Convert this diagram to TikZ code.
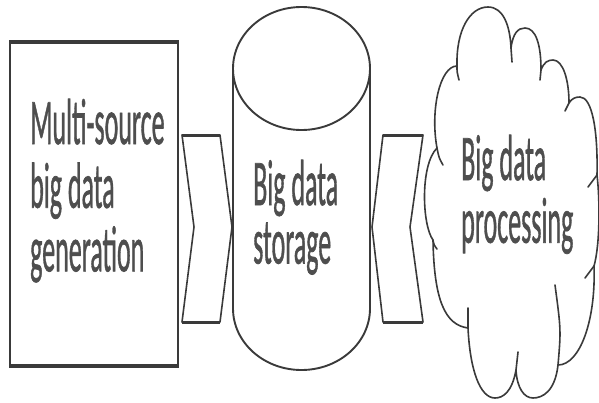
\documentclass[tikz,border=0pt]{standalone}
\usepackage{fontspec}
\setmainfont{Carlito}
\newfontfamily\labelfont{Carlito}[FakeBold=1.2]
\usepackage{graphicx}
\definecolor{ln}{HTML}{3A3A3A}
\definecolor{tx}{HTML}{4E4E4E}
\newcommand{\stretchtext}[2]{\scalebox{1}[2.5]{\labelfont\fontsize{26}{#1}\selectfont\begin{tabular}[t]{@{}l@{}}#2\end{tabular}}}
\tikzset{
  outline/.style={draw=ln, line width=1.6pt, line join=round},
  hedge/.style={draw=ln, line width=3.5pt},
  tail/.style={draw=ln, line width=1.6pt, line cap=round},
  txtlabel/.style={anchor=base west, inner sep=0pt, text=tx},
}
\begin{document}
\begin{tikzpicture}[x=1pt, y=-1pt]
\useasboundingbox (0,0) rectangle (599,402);
% generation box
\node[outline, rectangle, fill=white, minimum width=168pt, minimum height=322pt, inner sep=0pt] (gen) at (94,204) {};
\draw[hedge] (gen.north west) -- (gen.north east);
\draw[hedge] (gen.south west) -- (gen.south east);
\node[txtlabel] (gentext) at (30,144) {\stretchtext{24.8}{Multi-source\\big data\\generation}};
% chevron 1
\coordinate (c1a) at (182,135);
\coordinate (c1b) at (220,135);
\coordinate (c1c) at (232,227);
\coordinate (c1d) at (220,322);
\coordinate (c1e) at (182,322);
\coordinate (c1f) at (194,227);
\draw[outline, fill=white] (c1a) -- (c1b) -- (c1c) -- (c1d) -- (c1e) -- (c1f) -- cycle;
\draw[hedge, line width=3pt] (c1a) -- (c1b);
\draw[hedge, line width=3pt] (c1e) -- (c1d);
% cylinder
\draw[outline, fill=white, line width=1.9pt] (233,68.5) -- (233,308.5) arc[start angle=180, end angle=0, x radius=68.5, y radius=61.5] -- (370,68.5);
\draw[outline, line width=1.9pt] (301.5,68.5) ellipse[x radius=68.5, y radius=61.5];
\node[txtlabel] (stortext) at (253,205) {\stretchtext{23.2}{Big data\\storage}};
% chevron 2
\coordinate (c2a) at (383,135);
\coordinate (c2b) at (423,135);
\coordinate (c2c) at (410,227);
\coordinate (c2d) at (423,322);
\coordinate (c2e) at (383,322);
\coordinate (c2f) at (372,227);
\draw[outline, fill=white] (c2a) -- (c2b) -- (c2c) -- (c2d) -- (c2e) -- (c2f) -- cycle;
\draw[hedge, line width=3pt] (c2a) -- (c2b);
\draw[hedge, line width=3pt] (c2e) -- (c2d);
% cloud
\draw[outline, fill=white] (457,66) .. controls (456,30) and (470,7) .. (488,7)
 .. controls (503,7) and (510,25) .. (511,48)
 .. controls (513,33) and (518,28) .. (525,28)
 .. controls (536,28) and (541,45) .. (541,70)
 .. controls (544,62) and (548,60) .. (553,60)
 .. controls (563,60) and (569,80) .. (569,103)
 .. controls (572,98) and (576,97) .. (580,97)
 .. controls (592,97) and (598,130) .. (597,175)
 .. controls (600,200) and (600,245) .. (594,266)
 .. controls (596,320) and (580,365) .. (558,365)
 .. controls (555,392) and (542,398) .. (533,398)
 .. controls (524,398) and (517,388) .. (516,370)
 .. controls (512,392) and (503,398) .. (495,398)
 .. controls (480,398) and (470,370) .. (468,328)
 .. controls (445,325) and (434,300) .. (433,240)
 .. controls (422,225) and (420,165) .. (437,148)
 .. controls (430,110) and (440,66) .. (457,66) -- cycle;
\draw[tail] (457,66) .. controls (457,72) .. (459,80);
\draw[tail] (511,48) .. controls (511,55) .. (512,62);
\draw[tail] (541,70) -- (540,80);
\draw[tail] (569,103) -- (565,111);
\draw[tail] (597,175) -- (588,187);
\draw[tail] (594,266) -- (585,278);
\draw[tail] (558,365) .. controls (561,330) .. (555,285);
\draw[tail] (516,370) -- (518,352);
\draw[tail] (468,328) -- (468,308);
\draw[tail] (433,240) .. controls (434,245) .. (437,249);
\draw[tail] (437,148) .. controls (439,158) .. (443,165);
\node[txtlabel] (proctext) at (461,180) {\stretchtext{24}{Big data\\processing}};
\end{tikzpicture}
\end{document}
